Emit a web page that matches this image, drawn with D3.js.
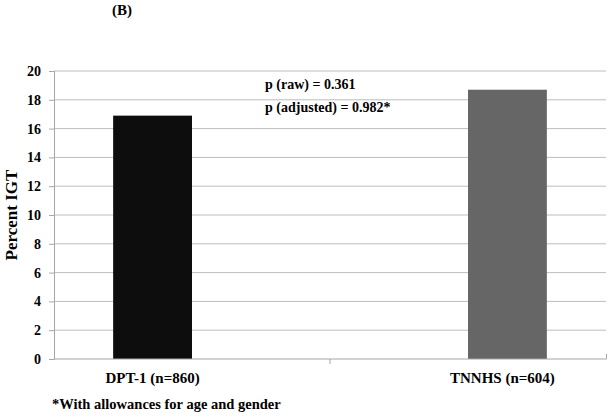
<!DOCTYPE html>
<html>
<head>
<meta charset="utf-8">
<script src="https://cdn.jsdelivr.net/npm/d3@7"></script>
<style>
  body { margin: 0; background: #fff; }
  svg text { font-family: "Liberation Serif", "DejaVu Serif", serif; font-weight: bold; fill: #000; }
</style>
</head>
<body>
<div id="chart"></div>
<script>
// data
var categories = ["DPT-1 (n=860)", "TNNHS (n=604)"];
var series = ["DPT-1", "TNNHS"];
var values = [16.9, 18.7];           // percent IGT, one per category
var barColors = ["#0d0d0d", "#666666"];
var yTicks = [0, 2, 4, 6, 8, 10, 12, 14, 16, 18, 20];
var notes = ["p (raw) = 0.361", "p (adjusted) = 0.982*"];

var W = 610, H = 417;
var margin = { top: 71, right: 4, bottom: 58, left: 54 },
    width = W - margin.left - margin.right,
    height = H - margin.top - margin.bottom;

var svg = d3.select("#chart").append("svg")
    .attr("width", W)
    .attr("height", H);

var g = svg.append("g")
    .attr("transform", "translate(" + margin.left + "," + margin.top + ")");

var x = d3.scaleBand()
    .domain(categories)
    .range([0, width]);

// each category holds a slot per series (clustered layout), gap ~150%
var inner = d3.scaleBand()
    .domain(series)
    .range([0, x.bandwidth()])
    .paddingOuter(0.375 * 2);

var y = d3.scaleLinear()
    .domain([0, 20])
    .range([height, 0]);

// gridlines
g.append("g")
    .selectAll("line")
    .data(yTicks.slice(1))
    .join("line")
    .attr("x1", 0)
    .attr("x2", width)
    .attr("y1", d => y(d))
    .attr("y2", d => y(d))
    .style("stroke", "#bdbdbd")
    .style("stroke-width", 1);

// bars
g.append("g")
    .selectAll("rect")
    .data(values)
    .join("rect")
    .attr("x", (d, i) => x(categories[i]) + inner(series[i]))
    .attr("y", d => y(d))
    .attr("width", inner.bandwidth())
    .attr("height", d => y(0) - y(d))
    .style("fill", (d, i) => barColors[i]);

// y axis
var yAxis = g.append("g")
    .call(d3.axisLeft(y).tickValues(yTicks).tickSize(5).tickPadding(8));
yAxis.attr("font-family", null).attr("font-size", null);
yAxis.select(".domain").style("stroke", "#a6a6a6");
yAxis.selectAll(".tick line").style("stroke", "#a6a6a6");
yAxis.selectAll("text")
    .style("font-size", "14px")
    .attr("fill", "#000");

// x axis
var xAxis = g.append("g")
    .attr("transform", "translate(0," + height + ")")
    .call(d3.axisBottom(x).tickSize(0).tickFormat(""));
xAxis.select(".domain").style("stroke", "#a6a6a6")
    .attr("d", "M0.5,0H" + (width + 0.5) + "V-5");
xAxis.selectAll(".tick").remove();

// category separator
g.append("line")
    .attr("x1", x(categories[1]))
    .attr("x2", x(categories[1]))
    .attr("y1", height)
    .attr("y2", height + 5)
    .style("stroke", "#a6a6a6");

// category labels, centred under the bars
g.append("g")
    .selectAll("text")
    .data(categories)
    .join("text")
    .attr("x", (d, i) => x(d) + inner(series[i]) + inner.bandwidth() / 2 - (i ? 5 : 0))
    .attr("y", height + 24)
    .attr("text-anchor", "middle")
    .style("font-size", "15px")
    .text(d => d);

// y axis title
svg.append("text")
    .attr("transform", "translate(17," + (margin.top + height / 2) + ") rotate(-90)")
    .attr("text-anchor", "middle")
    .style("font-size", "17px")
    .text("Percent  IGT");

// p-values
svg.append("g")
    .selectAll("text")
    .data(notes)
    .join("text")
    .attr("x", 265)
    .attr("y", (d, i) => 89 + i * 23)
    .style("font-size", "14px")
    .text(d => d);

// panel label
svg.append("text")
    .attr("x", 112)
    .attr("y", 15)
    .style("font-size", "15px")
    .text("(B)");

// footnote
svg.append("text")
    .attr("x", 52)
    .attr("y", 409)
    .style("font-size", "14.5px")
    .text("*With allowances for age and gender");
</script>
</body>
</html>
